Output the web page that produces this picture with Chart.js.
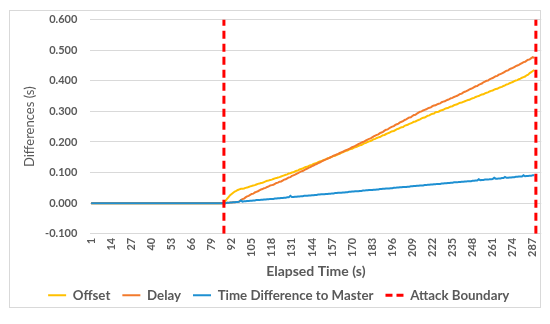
<!DOCTYPE html>
<html><head><meta charset="utf-8">
<script src="https://cdn.jsdelivr.net/npm/chart.js@4/dist/chart.umd.min.js"></script>
<style>
html,body{margin:0;padding:0;background:#fff;}
#frame{position:absolute;left:9px;top:10px;width:530px;height:296px;border:1px solid #d9d9d9;}
#c{position:absolute;left:0;top:0;}
</style></head><body>
<div id="frame"></div>
<canvas id="c" width="550" height="324"></canvas>
<script>
const categories = [
1,2,3,4,5,6,7,8,9,10,11,12,13,14,15,16,17,18,19,20,21,22,23,24,25,26,27,28,29,30,
31,32,33,34,35,36,37,38,39,40,41,42,43,44,45,46,47,48,49,50,51,52,53,54,55,56,57,58,59,60,
61,62,63,64,65,66,67,68,69,70,71,72,73,74,75,76,77,78,79,80,81,82,83,84,85,86,87,88,89,90,
91,92,93,94,95,96,97,98,99,100,101,102,103,104,105,106,107,108,109,110,111,112,113,114,115,116,117,118,119,120,
121,122,123,124,125,126,127,128,129,130,131,132,133,134,135,136,137,138,139,140,141,142,143,144,145,146,147,148,149,150,
151,152,153,154,155,156,157,158,159,160,161,162,163,164,165,166,167,168,169,170,171,172,173,174,175,176,177,178,179,180,
181,182,183,184,185,186,187,188,189,190,191,192,193,194,195,196,197,198,199,200,201,202,203,204,205,206,207,208,209,210,
211,212,213,214,215,216,217,218,219,220,221,222,223,224,225,226,227,228,229,230,231,232,233,234,235,236,237,238,239,240,
241,242,243,244,245,246,247,248,249,250,251,252,253,254,255,256,257,258,259,260,261,262,263,264,265,266,267,268,269,270,
271,272,273,274,275,276,277,278,279,280,281,282,283,284,285,286,287,288,289,290,291,292];

const tickLabels = [1,14,27,40,53,66,79,92,105,118,131,144,157,170,183,196,209,222,235,248,261,274,287];

const attackBoundaries = [87, 289];
const yMin = -0.1, yMax = 0.6, yStep = 0.1;

const offsetValues = [
0,0,0,0,0,0,0,0,0,0, 0,0,0,0,0,0,0,0,0,0, 0,0,0,0,0,0,0,0,0,0, 0,0,0,0,0,0,0,0,0,0,
0,0,0,0,0,0,0,0,0,0, 0,0,0,0,0,0,0,0,0,0, 0,0,0,0,0,0,0,0,0,0, 0,0,0,0,0,0,0,0,0,0,
0,0,0,0,0,0,
0,0.007,0.014,0.020,0.026,0.030,0.034,0.038,0.040,0.043,
0.045,0.047,0.047,0.048,0.050,0.051,0.053,0.055,0.056,0.058,
0.059,0.061,0.063,0.064,0.066,0.067,0.069,0.071,0.073,0.074,
0.076,0.077,0.079,0.081,0.082,0.084,0.085,0.087,0.089,0.091,
0.093,0.094,0.097,0.098,0.100,0.101,0.104,0.106,0.107,0.110,
0.112,0.113,0.116,0.118,0.119,0.122,0.124,0.125,0.128,0.130,
0.131,0.134,0.136,0.137,0.140,0.142,0.143,0.146,0.148,0.149,
0.152,0.154,0.155,0.158,0.160,0.161,0.165,0.166,0.169,0.171,
0.172,0.175,0.177,0.178,0.181,0.183,0.184,0.187,0.189,0.190,
0.193,0.196,0.197,0.200,0.202,0.203,0.206,0.209,0.210,0.213,
0.215,0.216,0.219,0.222,0.223,0.226,0.228,0.230,0.233,0.235,
0.236,0.239,0.242,0.243,0.246,0.248,0.249,0.253,0.255,0.256,
0.259,0.261,0.263,0.266,0.267,0.270,0.272,0.274,0.277,0.279,
0.280,0.283,0.286,0.287,0.290,0.292,0.293,0.297,0.298,0.299,
0.302,0.304,0.305,0.308,0.310,0.311,0.314,0.316,0.317,0.320,
0.322,0.323,0.326,0.328,0.329,0.331,0.333,0.335,0.337,0.338,
0.341,0.343,0.344,0.347,0.349,0.350,0.353,0.355,0.356,0.359,
0.361,0.362,0.365,0.367,0.368,0.371,0.373,0.374,0.377,0.379,
0.380,0.383,0.385,0.388,0.389,0.392,0.394,0.396,0.399,0.401,
0.402,0.405,0.407,0.410,0.412,0.414,0.418,0.420,0.425,0.428,
0.432,0.435];

const delayValues = [
0,0,0,0,0,0,0,0,0,0, 0,0,0,0,0,0,0,0,0,0, 0,0,0,0,0,0,0,0,0,0, 0,0,0,0,0,0,0,0,0,0,
0,0,0,0,0,0,0,0,0,0, 0,0,0,0,0,0,0,0,0,0, 0,0,0,0,0,0,0,0,0,0, 0,0,0,0,0,0,0,0,0,0,
0,0,0,0,0,0,
0,0,0.001,0.001,0.002,0.002,0.003,0.003,0.004,0.004,
0.006,0.010,0.013,0.015,0.019,0.022,0.024,0.027,0.030,0.031,
0.035,0.037,0.039,0.042,0.045,0.046,0.049,0.050,0.053,0.055,
0.058,0.059,0.060,0.063,0.066,0.067,0.070,0.071,0.074,0.077,
0.078,0.081,0.084,0.085,0.089,0.091,0.093,0.096,0.098,0.101,
0.104,0.105,0.108,0.111,0.113,0.116,0.118,0.121,0.123,0.126,
0.128,0.131,0.133,0.136,0.138,0.141,0.143,0.145,0.147,0.150,
0.152,0.155,0.157,0.159,0.161,0.164,0.166,0.168,0.171,0.173,
0.175,0.177,0.180,0.183,0.185,0.187,0.190,0.193,0.195,0.198,
0.200,0.202,0.205,0.208,0.210,0.212,0.215,0.218,0.221,0.223,
0.225,0.229,0.231,0.233,0.237,0.240,0.241,0.245,0.248,0.250,
0.252,0.256,0.258,0.260,0.264,0.266,0.268,0.272,0.274,0.277,
0.280,0.281,0.285,0.288,0.289,0.293,0.296,0.299,0.300,0.303,
0.305,0.307,0.310,0.312,0.313,0.317,0.319,0.320,0.323,0.325,
0.326,0.330,0.332,0.333,0.336,0.338,0.340,0.343,0.344,0.347,
0.349,0.351,0.354,0.357,0.358,0.362,0.364,0.366,0.369,0.372,
0.374,0.376,0.379,0.382,0.383,0.387,0.389,0.391,0.395,0.397,
0.400,0.401,0.405,0.407,0.409,0.412,0.415,0.416,0.420,0.422,
0.424,0.427,0.430,0.433,0.434,0.438,0.440,0.442,0.445,0.448,
0.450,0.452,0.455,0.458,0.461,0.462,0.466,0.469,0.470,0.474,
0.477,0.475];

const masterDiffValues = [
0,0,0,0,0,0,0,0,0,0, 0,0,0,0,0,0,0,0,0,0, 0,0,0,0,0,0,0,0,0,0, 0,0,0,0,0,0,0,0,0,0,
0,0,0,0,0,0,0,0,0,0, 0,0,0,0,0,0,0,0,0,0, 0,0,0,0,0,0,0,0,0,0, 0,0,0,0,0,0,0,0,0,0,
0,0,0,0,0,0,
0,
0.000,0.001,0.001,0.002,0.002,0.003,0.003,0.004,0.004,0.005,
0.009,0.005,0.006,0.006,0.007,0.007,0.008,0.008,0.009,0.009,
0.010,0.010,0.010,0.011,0.011,0.012,0.012,0.013,0.013,0.014,
0.014,0.014,0.015,0.015,0.016,0.016,0.017,0.017,0.018,0.018,
0.019,0.019,0.024,0.020,0.020,0.021,0.021,0.022,0.022,0.023,
0.023,0.024,0.024,0.024,0.025,0.025,0.026,0.026,0.027,0.027,
0.028,0.028,0.029,0.029,0.029,0.030,0.030,0.031,0.031,0.032,
0.032,0.033,0.033,0.034,0.034,0.034,0.035,0.035,0.036,0.036,
0.037,0.037,0.038,0.038,0.039,0.039,0.039,0.040,0.040,0.041,
0.041,0.042,0.042,0.043,0.043,0.043,0.044,0.044,0.045,0.045,
0.046,0.046,0.047,0.047,0.048,0.048,0.048,0.049,0.049,0.050,
0.050,0.051,0.051,0.052,0.052,0.053,0.053,0.053,0.054,0.054,
0.055,0.055,0.056,0.056,0.057,0.057,0.058,0.058,0.058,0.059,
0.059,0.060,0.060,0.061,0.061,0.062,0.062,0.063,0.063,0.063,
0.064,0.064,0.065,0.065,0.066,0.066,0.067,0.067,0.068,0.068,
0.068,0.069,0.069,0.070,0.070,0.071,0.071,0.072,0.072,0.072,
0.073,0.073,0.074,0.074,0.078,0.075,0.076,0.076,0.077,0.077,
0.077,0.078,0.078,0.079,0.083,0.080,0.080,0.081,0.081,0.082,
0.082,0.086,0.083,0.083,0.084,0.084,0.085,0.085,0.086,0.086,
0.087,0.087,0.087,0.091,0.088,0.089,0.089,0.090,0.090,0.091,0.091];

const boundaryPoints = [];
attackBoundaries.forEach(b => {
  boundaryPoints.push({x: b, y: yMin}, {x: b, y: yMax}, {x: b, y: null});
});

const FONT = "Lato, 'Open Sans', sans-serif";
const GREY = '#595959';

new Chart(document.getElementById('c'), {
  type: 'line',
  data: {
    labels: categories,
    datasets: [
      {label: 'Offset', data: offsetValues, borderColor: '#FFC000', backgroundColor: '#FFC000', borderWidth: 2, pointRadius: 0, pointStyle: 'line', order: 3, tension: 0},
      {label: 'Delay', data: delayValues, borderColor: '#F27A2C', backgroundColor: '#F27A2C', borderWidth: 2, pointRadius: 0, pointStyle: 'line', order: 2, tension: 0},
      {label: 'Time Difference to Master', data: masterDiffValues, borderColor: '#1E90D2', backgroundColor: '#1E90D2', borderWidth: 2, pointRadius: 0, pointStyle: 'line', order: 1, tension: 0},
      {label: 'Attack Boundary', data: boundaryPoints, borderColor: '#FF0000', backgroundColor: '#FF0000', borderWidth: 3, borderDash: [8, 5], legendDash: [7, 4], pointRadius: 0, pointStyle: 'line', order: 0, spanGaps: false, tension: 0}
    ]
  },
  options: {
    responsive: false,
    animation: false,
    events: [],
    layout: {padding: {left: 7.5, right: 0, top: 17, bottom: 12}},
    scales: {
      x: {
        type: 'category',
        offset: true,
        grid: {display: false, drawTicks: false},
        border: {display: false},
        title: {display: true, text: 'Elapsed Time (s)', color: GREY, font: {family: FONT, size: 14, weight: 'bold'}, padding: {top: 2, bottom: -3}},
        ticks: {
          autoSkip: false, maxRotation: 90, minRotation: 90, color: GREY, padding: 4,
          font: {family: FONT, size: 11, weight: 'bold'},
          callback: function(value) { const l = this.getLabelForValue(value); return tickLabels.includes(Number(l)) ? String(l) : null; }
        }
      },
      y: {
        min: yMin, max: yMax,
        grid: {color: '#d9d9d9', lineWidth: 1, drawTicks: false},
        border: {display: false},
        title: {display: true, text: 'Differences (s)', color: GREY, font: {family: FONT, size: 13, weight: 'normal'}, padding: {top: 14.5, bottom: -5.5}},
        ticks: {stepSize: yStep, color: GREY, padding: 13, font: {family: FONT, size: 11, weight: 'bold'},
          callback: v => (Math.abs(v) < 1e-9 ? 0 : v).toFixed(3)}
      }
    },
    plugins: {
      legend: {
        position: 'bottom',
        labels: {usePointStyle: true, pointStyle: 'line', pointStyleWidth: 18, boxHeight: 12, color: GREY, padding: 12,
          font: {family: FONT, size: 13.3, weight: 'bold'},
          generateLabels: chart => Chart.defaults.plugins.legend.labels.generateLabels(chart).map(item => {
            const ds = chart.data.datasets[item.datasetIndex];
            item.lineDash = ds.legendDash || [];
            item.lineWidth = ds.borderWidth;
            item.strokeStyle = ds.borderColor;
            return item;
          }),
          sort: (a, b) => a.datasetIndex - b.datasetIndex}
      },
      tooltip: {enabled: false}
    }
  }
});
</script>
</body></html>
